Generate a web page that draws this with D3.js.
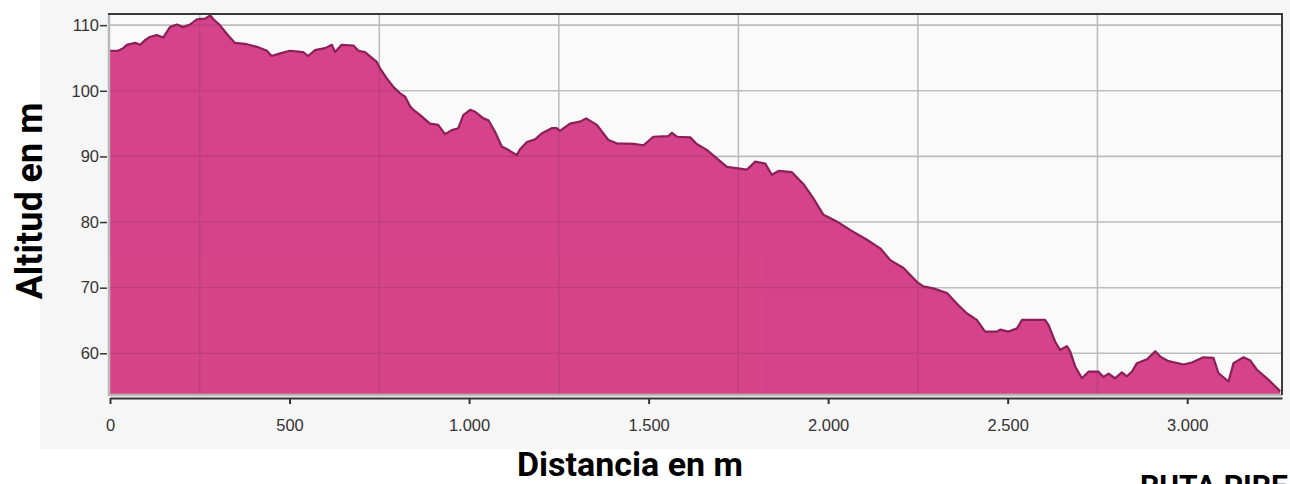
<!DOCTYPE html>
<html><head><meta charset="utf-8">
<script src="https://cdn.jsdelivr.net/npm/d3@7"></script>
<style>
html,body{margin:0;padding:0;background:#fff;overflow:hidden}
svg{display:block}
</style></head>
<body>
<svg id="chart" width="1290" height="484"></svg>
<script>
// ---- data ----
const distance = [0,23,37,47,70,84,97,111,130,148,167,186,204,223,242,265,279,288,306,325,348,381,409,437,450,474,501,538,552,571,599,618,627,645,678,692,710,743,752,771,789,808,822,836,845,864,891,914,933,952,970,984,1003,1017,1040,1054,1072,1091,1109,1133,1142,1161,1184,1202,1230,1244,1253,1281,1309,1326,1356,1388,1411,1458,1486,1513,1555,1565,1579,1616,1634,1662,1690,1718,1774,1797,1825,1843,1862,1899,1931,1959,1987,2024,2061,2108,2145,2173,2210,2247,2265,2293,2331,2358,2386,2414,2437,2470,2479,2502,2526,2540,2604,2614,2632,2646,2665,2674,2688,2707,2725,2753,2767,2781,2799,2818,2832,2846,2860,2888,2911,2925,2948,2990,3013,3045,3073,3087,3115,3129,3157,3176,3194,3226,3259];
const altitude = [106.1,106.1,106.5,107,107.3,107,107.7,108.2,108.5,108.1,109.7,110.1,109.7,110.1,110.9,111,111.5,110.9,110,108.7,107.3,107.1,106.7,106.1,105.3,105.7,106.1,105.9,105.3,106.2,106.5,107,105.9,107,106.9,106.1,105.9,104.4,103.4,101.9,100.6,99.6,99.1,97.6,97.1,96.3,95.0,94.8,93.4,94.0,94.3,96.3,97.1,96.8,95.8,95.5,93.8,91.5,91.0,90.2,91.1,92.2,92.6,93.5,94.3,94.3,93.9,95.0,95.3,95.8,94.8,92.5,92.0,91.9,91.7,93.0,93.1,93.6,93.0,92.9,91.9,91.0,89.7,88.4,88.0,89.2,88.9,87.2,87.8,87.6,85.8,83.6,81.1,80.1,78.8,77.3,76.0,74.2,73.0,70.9,70.2,69.9,69.2,67.6,66.1,65.1,63.3,63.3,63.6,63.3,63.8,65.1,65.1,64.3,61.8,60.5,61.1,60.3,58.0,56.2,57.2,57.2,56.4,56.9,56.2,57.1,56.5,57.2,58.5,59.1,60.3,59.5,58.8,58.3,58.6,59.4,59.3,57.0,55.7,58.5,59.4,58.9,57.5,56.0,54.2];
const xTicks = [0,500,1000,1500,2000,2500,3000];
const xGrid = [250,750,1250,1750,2250,2750];
const yTicks = [60,70,80,90,100,110];
const xTitle = "Distancia en m";
const yTitle = "Altitud en m";
const footer = "RUTA PIRE";

// ---- layout ----
const svg = d3.select("#chart");
const L = 110, R = 1282, T = 14, B = 394;
const x = d3.scaleLinear().domain([0, 3264]).range([L, R]);
const y = d3.scaleLinear().domain([53.8, 111.7]).range([B, T]);
const loc = d3.formatLocale({decimal:",", thousands:".", grouping:[3], currency:["","€"]});
const fmt = loc.format(",");

svg.append("rect").attr("x",0).attr("y",0).attr("width",1290).attr("height",484).attr("fill","#ffffff");
svg.append("rect").attr("x",40).attr("y",0).attr("width",1250).attr("height",449).attr("fill","#f6f6f6");
svg.append("rect").attr("x",L).attr("y",T).attr("width",R-L).attr("height",B-T).attr("fill","#fafafa");

// grid
const grid = svg.append("g").attr("stroke","#bdbdbd").attr("stroke-width",1.6);
grid.selectAll("line.h").data(yTicks).join("line").attr("class","h")
  .attr("x1",L).attr("x2",R).attr("y1",d=>y(d)).attr("y2",d=>y(d));
grid.selectAll("line.v").data(xGrid).join("line").attr("class","v")
  .attr("x1",d=>x(d)).attr("x2",d=>x(d)).attr("y1",T).attr("y2",B);

const pts = distance.map((d,i)=>({d, a: altitude[i]}));
const area = d3.area().x(p=>x(p.d)).y0(B).y1(p=>y(p.a));
const line = d3.line().x(p=>x(p.d)).y(p=>y(p.a));
svg.append("clipPath").attr("id","areaClip").append("path").datum(pts).attr("d",area);
svg.append("path").datum(pts).attr("d",area).attr("fill","#d6448a");
// faint grid seen through the fill
const grid2 = svg.append("g").attr("clip-path","url(#areaClip)").attr("stroke","#a83a70").attr("stroke-width",1.2).attr("opacity",0.55);
grid2.selectAll("line.h").data(yTicks).join("line")
  .attr("x1",L).attr("x2",R).attr("y1",d=>y(d)).attr("y2",d=>y(d));
grid2.selectAll("line.v").data(xGrid).join("line")
  .attr("x1",d=>x(d)).attr("x2",d=>x(d)).attr("y1",T).attr("y2",B);
svg.append("path").datum(pts).attr("d",line).attr("fill","none").attr("stroke","#8c1f58").attr("stroke-width",2.2).attr("stroke-linejoin","round");

// frame
svg.append("path").attr("d",`M${L-1},${T} L${L-1},${B+1} L${R},${B+1}`).attr("fill","none").attr("stroke","#b8b8b8").attr("stroke-width",2.5);
svg.append("path").attr("d",`M${L-2},${T} L${R},${T} L${R},${B+1}`).attr("fill","none").attr("stroke","#3a3a3a").attr("stroke-width",2);

// axes
const yAxis = svg.append("g").attr("transform",`translate(${L-3},0)`)
  .call(d3.axisLeft(y).tickValues(yTicks).tickSize(7).tickPadding(1).tickSizeOuter(0));
yAxis.select(".domain").remove();
yAxis.selectAll("line").attr("stroke","#333").attr("stroke-width",1.5);
yAxis.selectAll("text").attr("font-family","'Liberation Sans', Arial, sans-serif").attr("font-size",16.5).attr("fill","#333");

const xAxis = svg.append("g").attr("transform",`translate(0,${B+4})`)
  .call(d3.axisBottom(x).tickValues(xTicks).tickFormat(fmt).tickSize(6).tickPadding(15).tickSizeOuter(0));
xAxis.select(".domain").attr("stroke","#333").attr("stroke-width",2);
xAxis.selectAll("line").attr("stroke","#333").attr("stroke-width",2);
xAxis.selectAll("text").attr("font-family","'Liberation Sans', Arial, sans-serif").attr("font-size",16.5).attr("fill","#333");

// titles
svg.append("text").attr("transform","translate(42,201) rotate(-90)").attr("text-anchor","middle")
  .attr("font-family","Roboto, sans-serif").attr("font-weight",700).attr("font-size",36).attr("fill","#000").text(yTitle);
svg.append("text").attr("x",630).attr("y",476).attr("text-anchor","middle")
  .attr("font-family","Roboto, sans-serif").attr("font-weight",700).attr("font-size",34).attr("fill","#000").text(xTitle);
svg.append("text").attr("x",1140).attr("y",496).attr("text-anchor","start")
  .attr("font-family","Roboto, sans-serif").attr("font-weight",700).attr("font-size",30).attr("fill","#000").text(footer);
</script>
</body></html>
